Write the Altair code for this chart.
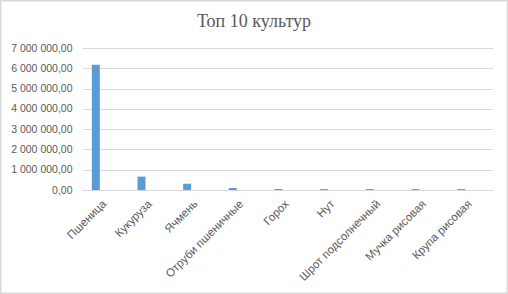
import altair as alt
import pandas as pd

categories = ["Пшеница", "Кукуруза", "Ячмень", "Отруби пшеничные", "Горох", "Нут",
              "Шрот подсолнечный", "Мучка рисовая", "Крупа рисовая"]
values = [6180000, 660000, 310000, 100000, 50000, 45000, 45000, 45000, 45000]
y_ticks = [0, 1000000, 2000000, 3000000, 4000000, 5000000, 6000000, 7000000]
title_text = "Топ 10 культур"

df = pd.DataFrame({"crop": categories, "value": values})

W, H = 411, 142
PL, PT, PR, PB = 82, 48, 15, 104
GRAY = "#595959"
GRID = "#d9d9d9"

label_expr = ("replace(replace(format(datum.value, ',.2f'), regexp(',', 'g'), ' '), '.', ',')")

bars = alt.Chart(df).mark_bar(size=8, xOffset=-9, color="#5b9bd5").encode(
    x=alt.X("crop:N", sort=categories, title=None,
            scale=alt.Scale(paddingInner=0, paddingOuter=0),
            axis=alt.Axis(labelAngle=-45, labelAlign="right", labelBaseline="middle",
                          labelFontSize=11.5, labelColor=GRAY, labelFont="Liberation Sans",
                          ticks=False, domain=True, domainColor=GRID, labelPadding=12,
                          grid=False)),
    y=alt.Y("value:Q", title=None,
            scale=alt.Scale(domain=[0, 7000000], nice=False),
            axis=alt.Axis(values=y_ticks, labelExpr=label_expr, labelFontSize=10.5,
                          labelColor=GRAY, labelFont="Liberation Sans", ticks=False,
                          domain=False, grid=True, gridColor=GRID, labelPadding=10)),
)

border = alt.Chart(pd.DataFrame({"a": [0]})).mark_rect(
    fill=None, stroke=GRID, strokeWidth=1.5
).encode(
    x=alt.value(-PL + 0.75), x2=alt.value(W + PR - 0.75),
    y=alt.value(-PT + 0.75), y2=alt.value(H + PB - 0.75),
)

title = alt.Chart(pd.DataFrame({"t": [title_text]})).mark_text(
    font="Liberation Serif", fontSize=18, color=GRAY, align="center", baseline="alphabetic"
).encode(
    text="t:N", x=alt.value(254 - PL), y=alt.value(27 - PT),
)

chart = alt.layer(border, title, bars).properties(
    width=W, height=H,
    padding={"left": PL, "top": PT, "right": PR, "bottom": PB},
    autosize=alt.AutoSizeParams(type="none"),
).configure_view(stroke=None)

chart.save("out.html", embed_options={"renderer": "svg", "actions": False})
